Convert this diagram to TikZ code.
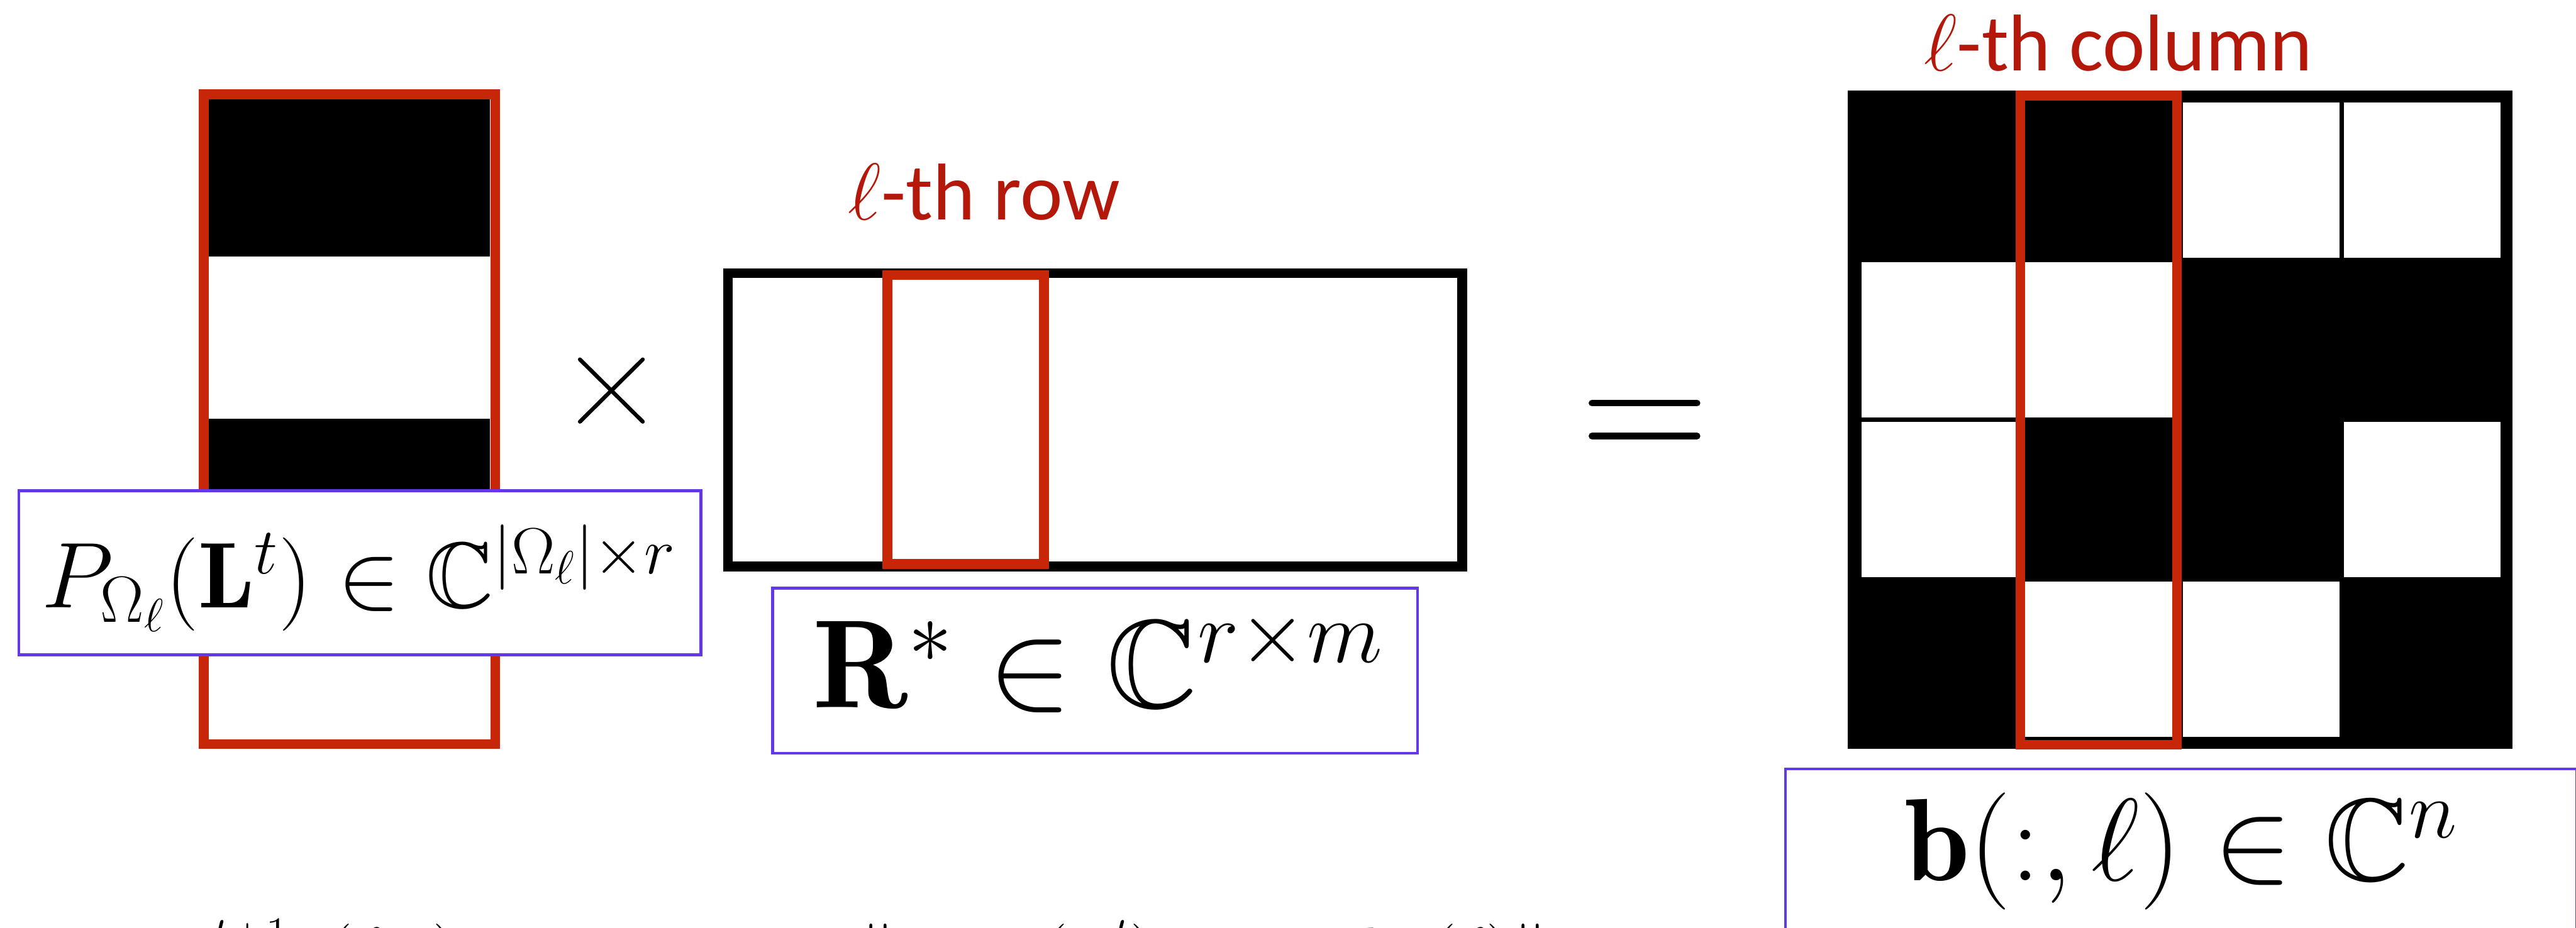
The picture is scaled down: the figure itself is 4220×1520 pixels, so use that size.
\RequirePackage{fix-cm}
\documentclass[tikz,border=0pt]{standalone}
\usepackage{amsmath,amssymb}
\usepackage{fontspec}
\newfontfamily\carlitofont{Carlito}
\definecolor{boxred}{RGB}{200,38,8}
\definecolor{txtred}{RGB}{180,24,10}
\definecolor{lblue}{RGB}{98,56,232}
\definecolor{titlegrey}{RGB}{153,153,153}
\tikzset{
  redframe/.style={draw=boxred, line width=0.16cm, inner sep=0pt},
  blackframe/.style={draw=black, line width=0.16cm, inner sep=0pt},
  lblbox/.style={draw=lblue, line width=0.045cm, fill=white, inner sep=0pt},
  opstroke/.style={line width=0.065cm, line cap=round},
  eqbar/.style={line width=0.11cm, line cap=round},
  redlabel/.style={text=txtred, font=\carlitofont\fontsize{37.5}{40}\selectfont, inner sep=0pt},
  titletxt/.style={text=titlegrey, font=\carlitofont\bfseries\fontsize{54}{60}\selectfont, inner sep=0pt},
  mathP/.style={font=\fontsize{43.5}{48}\selectfont, inner sep=0pt},
  mathR/.style={font=\fontsize{58.5}{62}\selectfont, inner sep=0pt},
  mathB/.style={font=\fontsize{54.6}{60}\selectfont, inner sep=0pt},
  mathbot/.style={font=\fontsize{34}{38}\selectfont, inner sep=0pt}
}
\begin{document}
\begin{tikzpicture}[x=0.01cm,y=-0.01cm]
\useasboundingbox (0,0) rectangle (4220,1520);
\begin{scope}
\clip (0,0) rectangle (4220,1520);
\fill[white] (0,0) rectangle (4220,1520);

% cut-off title at the top
\node[titletxt, anchor=base west] (title) at (622,-36) {Sampling};

% left factor: P_Omega(L^t)
\fill (342,163) rectangle (803,420);
\fill (342,686) rectangle (803,950);
\node[redframe, minimum width=4.77cm, minimum height=10.64cm] (Lcol) at (572.5,687) {};
\node[lblbox, minimum width=11.17cm, minimum height=2.69cm] (Pbox) at (589.5,938.5) {};
\node[mathP, anchor=base] (Ptext) at (588,996) {$P_{\Omega_\ell}(\mathbf{L}^t) \in \mathbb{C}^{|\Omega_\ell|\times r}$};

% times sign
\draw[opstroke] (950,589) -- (1053,691);
\draw[opstroke] (950,691) -- (1053,589);

% middle factor: R^*
\node[blackframe, minimum width=12.02cm, minimum height=4.80cm] (Rmat) at (1794,688) {};
\node[redframe, minimum width=2.56cm, minimum height=4.73cm] (Rrow) at (1582,687.5) {};
\node[redlabel, anchor=base] (rowlabel) at (1612,360) {$\ell$-th row};
\node[lblbox, minimum width=10.56cm, minimum height=2.70cm] (Rbox) at (1794,1099) {};
\node[mathR, anchor=base] (Rtext) at (1799,1160) {$\mathbf{R}^* \in \mathbb{C}^{r\times m}$};

% equals sign
\draw[eqbar] (2608,660.5) -- (2780,660.5);
\draw[eqbar] (2608,714.5) -- (2780,714.5);

% right: observed matrix b
\fill (3027,148) rectangle (4116,1227);
\foreach \r/\c in {1/3,1/4,2/1,2/2,3/1,3/4,4/2,4/3}{
  \fill[white] ({3046+(\c-1)*263.5+3.5},{164+(\r-1)*261.75+3.5}) rectangle ({3046+\c*263.5-3.5},{164+\r*261.75-3.5});
}
\node[redframe, minimum width=2.56cm, minimum height=10.63cm] (Bcol) at (3438,688.5) {};
\node[redlabel, anchor=base] (collabel) at (3470,116) {$\ell$-th column};
\node[lblbox, minimum width=12.96cm, minimum height=2.75cm] (Bbox) at (3573,1397.5) {};
\node[mathB, anchor=base] (Btext) at (3573.5,1443) {$\mathbf{b}(:,\ell) \in \mathbb{C}^{n}$};

% cut-off formula at the bottom (only the tops of its glyphs show)
\node[mathbot, anchor=base west] (botA) at (254,1604) {$\mathbf{R}^{t+1}\hspace{0.6cm}(\ell,:) = \arg\min_{\mathbf{r}}$};
\node[mathbot, anchor=base west] (botB) at (1408,1604) {$\|P_{\Omega_\ell}$};
\node[mathbot, anchor=base west] (botC) at (1706,1604) {$(\mathbf{L}^t)\,\mathbf{r} -$};
\node[mathbot, anchor=base west] (botD) at (2226,1604) {$\mathbf{b}\hspace{0.5cm}(\ell)\|$};
\end{scope}
\end{tikzpicture}
\end{document}
